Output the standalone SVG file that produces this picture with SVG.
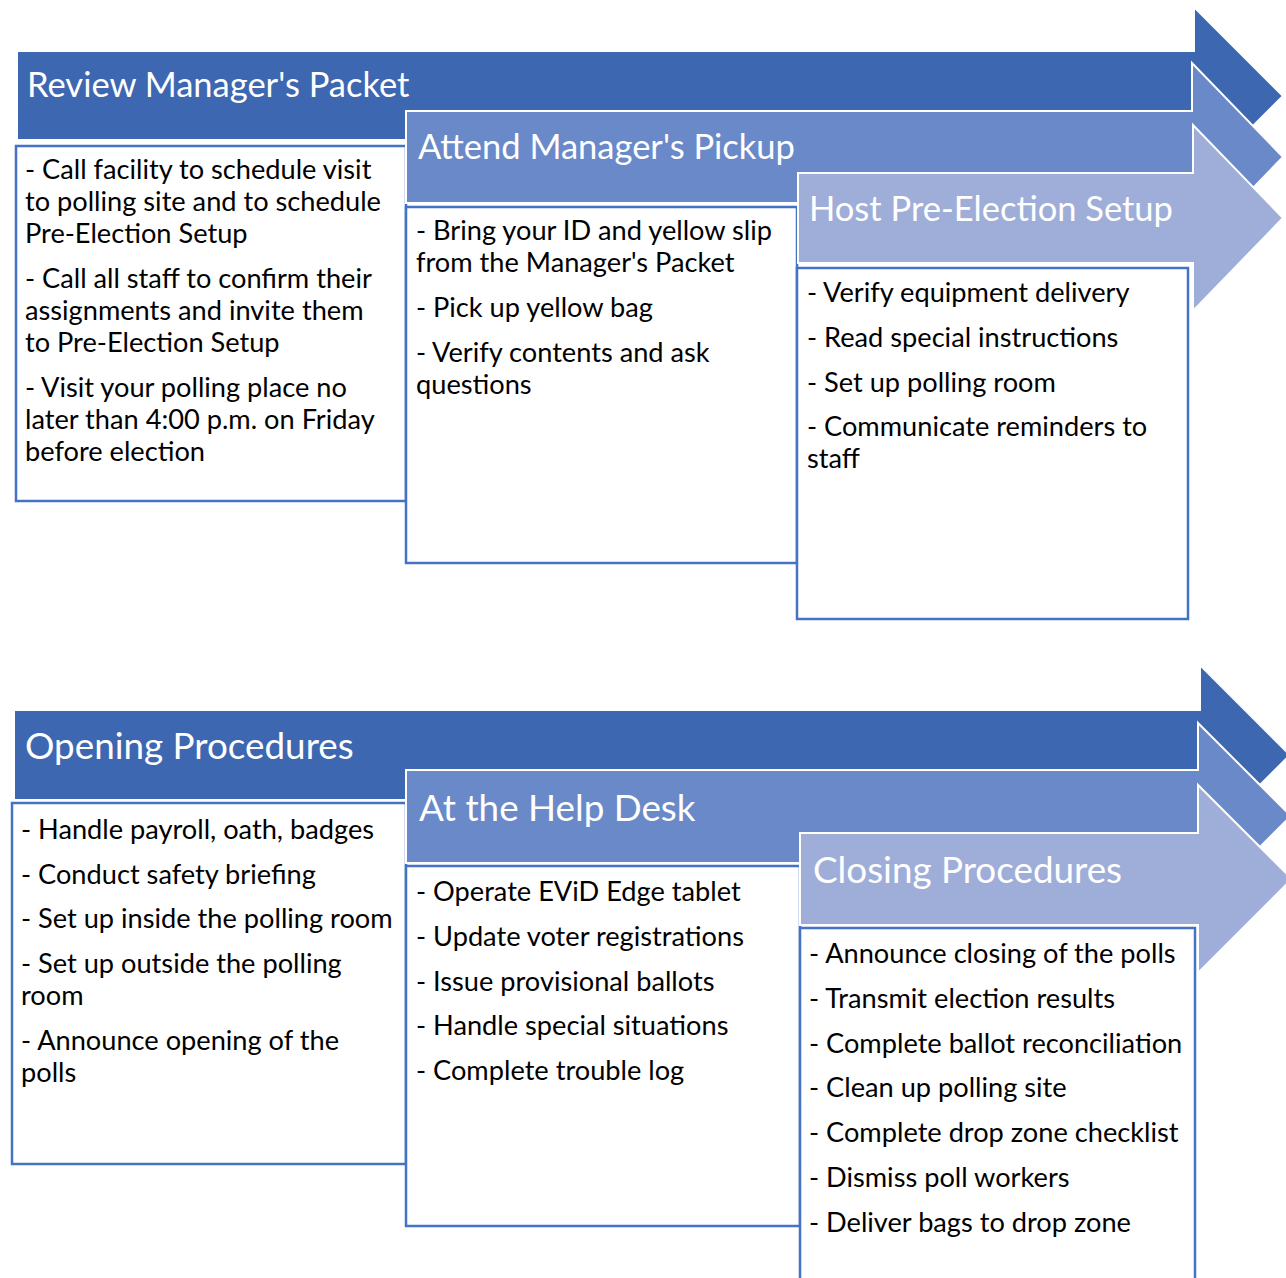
<svg xmlns="http://www.w3.org/2000/svg" width="1286" height="1278" viewBox="0 0 1286 1278">
<style>
.a1{fill:#3E67B1;stroke:#fff;stroke-width:2}
.a2{fill:#6A89C8;stroke:#fff;stroke-width:2}
.a3{fill:#9FAED8;stroke:#fff;stroke-width:2}
.box{fill:#fff;stroke:#4472C4;stroke-width:2.5}
.h{font-family:Lato,"Liberation Sans",sans-serif;font-size:34.5px;fill:#fff}
.hb{font-size:36.8px}
.t{font-family:Lato,"Liberation Sans",sans-serif;font-size:27.2px;fill:#000}
</style>
<rect width="1286" height="1278" fill="#fff"/>
<g id="connectors"/>
<g id="review-managers-packet">
<path class="a1" d="M17,51 H1194 V7 L1283,96 L1194,185 V140 H17 Z"/>
<rect class="box" x="16" y="146" width="390" height="355"/>
<text class="h" x="27" y="97">Review Manager's Packet</text>
<text class="t"><tspan x="25" y="179">- Call facility to schedule visit</tspan><tspan x="25" y="211">to polling site and to schedule</tspan><tspan x="25" y="243">Pre-Election Setup</tspan><tspan x="25" y="288">- Call all staff to confirm their</tspan><tspan x="25" y="320">assignments and invite them</tspan><tspan x="25" y="352">to Pre-Election Setup</tspan><tspan x="25" y="397">- Visit your polling place no</tspan><tspan x="25" y="429">later than 4:00 p.m. on Friday</tspan><tspan x="25" y="461">before election</tspan></text>
</g>
<g id="attend-managers-pickup">
<path class="a2" d="M406,111 H1192 V63 L1283,157 L1192,251 V203 H406 Z"/>
<rect class="box" x="406" y="207" width="391" height="356"/>
<text class="h" x="418" y="159">Attend Manager's Pickup</text>
<text class="t"><tspan x="416" y="240">- Bring your ID and yellow slip</tspan><tspan x="416" y="272">from the Manager's Packet</tspan><tspan x="416" y="317">- Pick up yellow bag</tspan><tspan x="416" y="362">- Verify contents and ask</tspan><tspan x="416" y="394">questions</tspan></text>
</g>
<g id="host-pre-election-setup">
<path class="a3" d="M798,173 H1193 V125 L1283,218 L1193,311 V263 H798 Z"/>
<rect class="box" x="797" y="268" width="391" height="351"/>
<text class="h" x="809" y="221">Host Pre-Election Setup</text>
<text class="t"><tspan x="807" y="302">- Verify equipment delivery</tspan><tspan x="807" y="347">- Read special instructions</tspan><tspan x="807" y="392">- Set up polling room</tspan><tspan x="807" y="436">- Communicate reminders to</tspan><tspan x="807" y="468">staff</tspan></text>
</g>
<g id="opening-procedures">
<path class="a1" d="M14,710 H1200 V665 L1290,755 L1200,845 V800 H14 Z"/>
<rect class="box" x="12" y="803" width="394" height="361"/>
<text class="h hb" x="25" y="759">Opening Procedures</text>
<text class="t"><tspan x="21" y="839">- Handle payroll, oath, badges</tspan><tspan x="21" y="884">- Conduct safety briefing</tspan><tspan x="21" y="928">- Set up inside the polling room</tspan><tspan x="21" y="973">- Set up outside the polling</tspan><tspan x="21" y="1005">room</tspan><tspan x="21" y="1050">- Announce opening of the</tspan><tspan x="21" y="1082">polls</tspan></text>
</g>
<g id="at-the-help-desk">
<path class="a2" d="M406,770 H1198 V723 L1291,816 L1198,909 V863 H406 Z"/>
<rect class="box" x="406" y="866" width="394" height="360"/>
<text class="h hb" x="419" y="821">At the Help Desk</text>
<text class="t"><tspan x="416" y="901">- Operate EViD Edge tablet</tspan><tspan x="416" y="946">- Update voter registrations</tspan><tspan x="416" y="991">- Issue provisional ballots</tspan><tspan x="416" y="1035">- Handle special situations</tspan><tspan x="416" y="1080">- Complete trouble log</tspan></text>
</g>
<g id="closing-procedures">
<path class="a3" d="M800,833 H1198 V785 L1292,879 L1198,973 V925 H800 Z"/>
<rect class="box" x="800" y="928" width="395" height="360"/>
<text class="h hb" x="813" y="883">Closing Procedures</text>
<text class="t"><tspan x="809" y="963">- Announce closing of the polls</tspan><tspan x="809" y="1008">- Transmit election results</tspan><tspan x="809" y="1053">- Complete ballot reconciliation</tspan><tspan x="809" y="1097">- Clean up polling site</tspan><tspan x="809" y="1142">- Complete drop zone checklist</tspan><tspan x="809" y="1187">- Dismiss poll workers</tspan><tspan x="809" y="1232">- Deliver bags to drop zone</tspan></text>
</g>
</svg>
